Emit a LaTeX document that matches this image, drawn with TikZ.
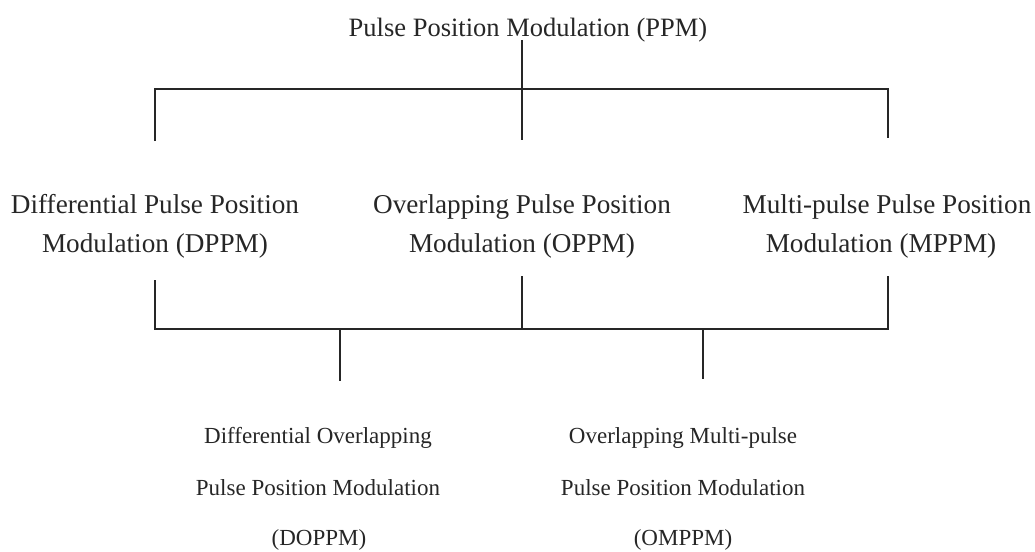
\documentclass[tikz,border=0pt]{standalone}
\usepackage{fontspec}
\setmainfont{Liberation Serif}
\begin{document}
\begin{tikzpicture}[x=1pt,y=-1pt,
  conn/.style={line width=1.4pt, draw=black!85},
  big/.style={inner sep=0pt, anchor=base, text=black!85, font=\fontsize{26.5}{30}\selectfont},
  mid/.style={inner sep=0pt, anchor=base, text=black!85, font=\fontsize{27.2}{30}\selectfont},
  small/.style={inner sep=0pt, anchor=base, text=black!85, font=\fontsize{23}{27}\selectfont}]
\useasboundingbox (0,0) rectangle (1035,551);
% title
\node[big] (ppm) at (528,37) {Pulse Position Modulation (PPM)};
% second row
\node[mid] (dppm1) at (155,213) {Differential Pulse Position};
\node[mid] (dppm2) at (155,252) {Modulation (DPPM)};
\node[mid] (oppm1) at (522,213) {Overlapping Pulse Position};
\node[mid] (oppm2) at (522,252) {Modulation (OPPM)};
\node[mid] (mppm1) at (887,213) {Multi-pulse Pulse Position};
\node[mid] (mppm2) at (881,252) {Modulation (MPPM)};
% third row
\node[small] (doppm1) at (318,443) {Differential Overlapping};
\node[small] (doppm2) at (318,495) {Pulse Position Modulation};
\node[small] (doppm3) at (319,545) {(DOPPM)};
\node[small] (omppm1) at (683,443) {Overlapping Multi-pulse};
\node[small] (omppm2) at (683,495) {Pulse Position Modulation};
\node[small] (omppm3) at (683,545) {(OMPPM)};
% bracket coordinates
\coordinate (t0) at (522,40);
\coordinate (tm) at (522,89);
\coordinate (tl) at (155,89);
\coordinate (tr) at (888,89);
\coordinate (tld) at (155,141);
\coordinate (tmd) at (522,140);
\coordinate (trd) at (888,138);
\coordinate (bl0) at (155,280);
\coordinate (bm0) at (522,276);
\coordinate (br0) at (888,276);
\coordinate (bl) at (155,329);
\coordinate (bm) at (522,329);
\coordinate (br) at (888,329);
\coordinate (d1) at (340,329);
\coordinate (d2) at (703,329);
\coordinate (d1e) at (340,381);
\coordinate (d2e) at (703,379);
% connectors
\draw[conn] (t0) -- (tmd);
\draw[conn] (tld) -- (tl) -- (tr) -- (trd);
\draw[conn] (bl0) -- (bl) -- (br) -- (br0);
\draw[conn] (bm0) -- (bm);
\draw[conn] (d1) -- (d1e);
\draw[conn] (d2) -- (d2e);
\end{tikzpicture}
\end{document}
